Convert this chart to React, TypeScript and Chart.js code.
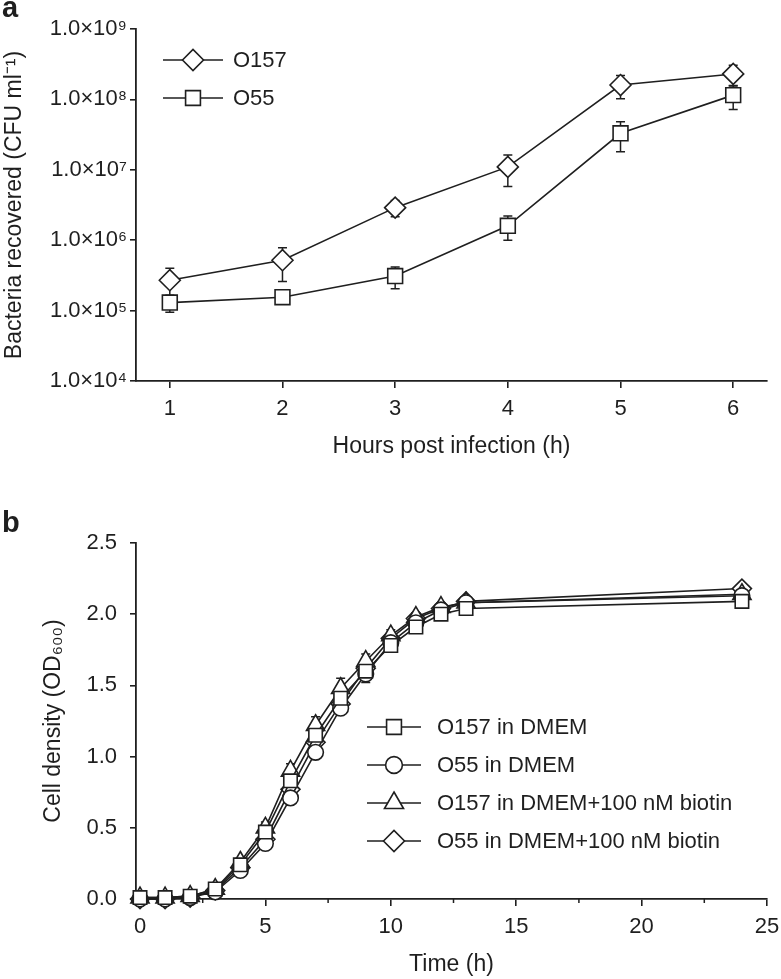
import React, { useEffect, useRef } from 'react';
import { Chart, registerables } from 'chart.js';
import { drawPoint } from 'chart.js/helpers';

Chart.register(...registerables);

const FONT_FAMILY = "'Liberation Sans', Arial, Helvetica, sans-serif";
const INK = '#1f1f1f';

// ---------- Panel a ----------
const hoursA = [1, 2, 3, 4, 5, 6];
const o157A = [2.7e5, 5.2e5, 2.9e6, 1.1e7, 1.6e8, 2.3e8];
const o157ASd = [1.3e5, 2.6e5, 7.5e5, 5.2e6, 5.8e7, 7.5e7];
const o55A = [1.3e5, 1.55e5, 3.1e5, 1.6e6, 3.3e7, 1.15e8];
const o55ASd = [3.5e4, 1.0e4, 1.05e5, 6.0e5, 1.5e7, 4.3e7];
const yTicksA = [1e4, 1e5, 1e6, 1e7, 1e8, 1e9];
const yTickLabelsA = ['1.0×10⁴', '1.0×10⁵', '1.0×10⁶', '1.0×10⁷', '1.0×10⁸', '1.0×10⁹'];
const xTicksA = [1, 2, 3, 4, 5, 6];
const seriesNamesA = ['O157', 'O55'];

// ---------- Panel b ----------
const timeB = [0, 1, 2, 3, 4, 5, 6, 7, 8, 9, 10, 11, 12, 13, 24];
const o157DmemB = [0.01, 0.01, 0.02, 0.07, 0.24, 0.47, 0.83, 1.15, 1.41, 1.60, 1.78, 1.91, 2.00, 2.04, 2.09];
const o157DmemSdB = [0.005, 0.005, 0.01, 0.02, 0.03, 0.04, 0.05, 0.05, 0.05, 0.08, 0.04, 0.03, 0.03, 0.03, 0.03];
const o55DmemB = [0.0, 0.0, 0.01, 0.05, 0.20, 0.39, 0.71, 1.03, 1.34, 1.58, 1.80, 1.94, 2.03, 2.08, 2.13];
const o55DmemSdB = [0.005, 0.005, 0.01, 0.01, 0.02, 0.03, 0.04, 0.04, 0.04, 0.04, 0.03, 0.03, 0.02, 0.02, 0.03];
const o157BiotinB = [0.01, 0.01, 0.02, 0.07, 0.26, 0.50, 0.90, 1.22, 1.48, 1.67, 1.85, 1.98, 2.05, 2.08, 2.14];
const o157BiotinSdB = [0.005, 0.005, 0.01, 0.02, 0.03, 0.04, 0.05, 0.06, 0.07, 0.05, 0.04, 0.03, 0.03, 0.03, 0.03];
const o55BiotinB = [0.0, 0.0, 0.01, 0.06, 0.22, 0.42, 0.77, 1.10, 1.37, 1.62, 1.83, 1.97, 2.04, 2.09, 2.18];
const o55BiotinSdB = [0.005, 0.005, 0.01, 0.01, 0.02, 0.03, 0.04, 0.04, 0.04, 0.04, 0.03, 0.03, 0.03, 0.02, 0.03];
const yTicksB = [0, 0.5, 1.0, 1.5, 2.0, 2.5];
const yTickLabelsB = ['0.0', '0.5', '1.0', '1.5', '2.0', '2.5'];
const xTicksB = [0, 5, 10, 15, 20, 25];
const xMinorTicksB = [2.5, 7.5, 12.5, 17.5, 22.5];
const seriesNamesB = [
  'O157 in DMEM',
  'O55 in DMEM',
  'O157 in DMEM+100 nM biotin',
  'O55 in DMEM+100 nM biotin',
];

// ---------- plugins ----------
const errorBarPlugin = {
  id: 'errorBars',
  beforeDatasetsDraw(chart: any) {
    const ctx = chart.ctx;
    const ys = chart.scales.y;
    chart.data.datasets.forEach((ds: any, i: number) => {
      const err = ds.errors;
      if (!err) return;
      const meta = chart.getDatasetMeta(i);
      ctx.save();
      ctx.strokeStyle = INK;
      ctx.lineWidth = 1.5;
      meta.data.forEach((pt: any, j: number) => {
        const v = ds.data[j].y;
        const e = err[j];
        if (!e) return;
        const yTop = ys.getPixelForValue(v + e);
        const low = v - e;
        const yBot = ys.type === 'logarithmic' && low <= 0 ? pt.y : ys.getPixelForValue(low);
        ctx.beginPath();
        ctx.moveTo(pt.x, yTop);
        ctx.lineTo(pt.x, yBot);
        ctx.moveTo(pt.x - 4.5, yTop);
        ctx.lineTo(pt.x + 4.5, yTop);
        ctx.moveTo(pt.x - 4.5, yBot);
        ctx.lineTo(pt.x + 4.5, yBot);
        ctx.stroke();
      });
      ctx.restore();
    });
  },
};

const inlineLegendPlugin = {
  id: 'inlineLegend',
  afterDraw(chart: any, _args: any, opts: any) {
    const { ctx, chartArea } = chart;
    ctx.save();
    chart.data.datasets.forEach((ds: any, i: number) => {
      const cx = chartArea.left + opts.dx;
      const cy = chartArea.top + opts.dy + i * opts.spacing;
      ctx.strokeStyle = INK;
      ctx.lineWidth = 1.6;
      ctx.beginPath();
      ctx.moveTo(cx - opts.half, cy);
      ctx.lineTo(cx + opts.half, cy);
      ctx.stroke();
      ctx.fillStyle = '#ffffff';
      ctx.strokeStyle = INK;
      ctx.lineWidth = ds.pointBorderWidth;
      const r = opts.radius && opts.radius[i] ? opts.radius[i] : ds.pointRadius;
      drawPoint(ctx, { pointStyle: ds.pointStyle, radius: r, borderWidth: ds.pointBorderWidth, rotation: 0 }, cx, cy);
      ctx.fillStyle = INK;
      ctx.font = `${opts.fontSize}px ${FONT_FAMILY}`;
      ctx.textAlign = 'left';
      ctx.textBaseline = 'middle';
      ctx.fillText(ds.label, cx + opts.textOffset, cy + 1);
    });
    ctx.restore();
  },
};

const minorTickPlugin = {
  id: 'minorTicks',
  afterDraw(chart: any, _args: any, opts: any) {
    if (!opts || !opts.values) return;
    const { ctx } = chart;
    const xs = chart.scales.x;
    const y0 = chart.chartArea.bottom;
    ctx.save();
    ctx.strokeStyle = INK;
    ctx.lineWidth = 1.5;
    ctx.beginPath();
    opts.values.forEach((v: number) => {
      const px = xs.getPixelForValue(v);
      ctx.moveTo(px, y0);
      ctx.lineTo(px, y0 + opts.length);
    });
    ctx.stroke();
    ctx.restore();
  },
};

const tickFont = { family: FONT_FAMILY, size: 22 };
const titleFont = { family: FONT_FAMILY, size: 23 };

function axisGrid(tickLength: number) {
  return {
    display: true,
    drawOnChartArea: false,
    drawTicks: true,
    tickLength,
    color: INK,
    lineWidth: 1.6,
  };
}
const axisBorder = { display: true, color: INK, width: 1.8 };

function fixXHeight(h: number) {
  return (s: any) => {
    s.height = h;
    s.paddingLeft = 0;
    s.paddingRight = 0;
  };
}
function fixYWidth(w: number) {
  return (s: any) => {
    s.width = w;
    s.paddingTop = 0;
    s.paddingBottom = 0;
  };
}

function datasetStyle(pointStyle: string, radius: number) {
  return {
    pointStyle,
    pointRadius: radius,
    pointHoverRadius: radius,
    pointBackgroundColor: '#ffffff',
    pointBorderColor: INK,
    pointBorderWidth: 1.6,
    borderColor: INK,
    borderWidth: 1.6,
    backgroundColor: '#ffffff',
    fill: false,
    tension: 0,
    clip: false as any,
  };
}

function makeConfigA(): any {
  return {
    type: 'line',
    data: {
      datasets: [
        {
          label: seriesNamesA[0],
          data: hoursA.map((x, i) => ({ x, y: o157A[i] })),
          errors: o157ASd,
          ...datasetStyle('rectRot', 10.5),
        },
        {
          label: seriesNamesA[1],
          data: hoursA.map((x, i) => ({ x, y: o55A[i] })),
          errors: o55ASd,
          ...datasetStyle('rect', 10.5),
        },
      ],
    },
    options: {
      responsive: false,
      animation: false,
      devicePixelRatio: 1,
      events: [],
      layout: { padding: { left: 1.2, right: 14, top: 29, bottom: 19.2 } },
      plugins: {
        legend: { display: false },
        tooltip: { enabled: false },
        inlineLegend: { dx: 57, dy: 31, spacing: 38, half: 30, textOffset: 40, fontSize: 22 },
      },
      scales: {
        x: {
          type: 'linear',
          min: 0.7,
          max: 6.3,
          afterBuildTicks: (s: any) => {
            s.ticks = xTicksA.map((v) => ({ value: v }));
          },
          afterFit: fixXHeight(79.8),
          grid: axisGrid(7),
          border: axisBorder,
          ticks: {
            autoSkip: false,
            maxRotation: 0,
            padding: 8,
            color: INK,
            font: tickFont,
            callback: (v: number) => String(v),
          },
          title: {
            display: true,
            text: 'Hours post infection (h)',
            color: INK,
            font: titleFont,
            padding: 0,
          },
        },
        y: {
          type: 'logarithmic',
          min: 1e4,
          max: 1e9,
          afterBuildTicks: (s: any) => {
            s.ticks = yTicksA.map((v) => ({ value: v }));
          },
          afterFit: fixYWidth(134.8),
          grid: axisGrid(6),
          border: axisBorder,
          ticks: {
            autoSkip: false,
            padding: 3,
            color: INK,
            font: tickFont,
            callback: (v: number) => {
              const i = yTicksA.indexOf(v);
              return i >= 0 ? yTickLabelsA[i] : '';
            },
          },
          title: {
            display: true,
            text: 'Bacteria recovered (CFU ml⁻¹)',
            color: INK,
            font: titleFont,
            padding: 0,
          },
        },
      },
    },
    plugins: [errorBarPlugin, inlineLegendPlugin],
  };
}

function makeConfigB(): any {
  const seriesVals = [o157DmemB, o55DmemB, o157BiotinB, o55BiotinB];
  const seriesSd = [o157DmemSdB, o55DmemSdB, o157BiotinSdB, o55BiotinSdB];
  const styles = [
    datasetStyle('rect', 9.5),
    datasetStyle('circle', 7.8),
    datasetStyle('triangle', 10.5),
    datasetStyle('rectRot', 9.5),
  ];
  return {
    type: 'line',
    data: {
      datasets: seriesVals.map((vals, k) => ({
        label: seriesNamesB[k],
        data: timeB.map((x, i) => ({ x, y: vals[i] })),
        errors: seriesSd[k],
        ...styles[k],
      })),
    },
    options: {
      responsive: false,
      animation: false,
      devicePixelRatio: 1,
      events: [],
      layout: { padding: { left: 39.7, right: 14, top: 63, bottom: 0.2 } },
      plugins: {
        legend: { display: false },
        tooltip: { enabled: false },
        inlineLegend: {
          dx: 258,
          dy: 184,
          spacing: 38,
          half: 27,
          textOffset: 43,
          fontSize: 22,
          radius: [10.5, 8.4, 11, 10.5],
        },
        minorTicks: { values: xMinorTicksB, length: 4 },
      },
      scales: {
        x: {
          type: 'linear',
          min: -0.16,
          max: 25,
          afterBuildTicks: (s: any) => {
            s.ticks = xTicksB.map((v) => ({ value: v }));
          },
          afterFit: fixXHeight(79.8),
          grid: axisGrid(7),
          border: axisBorder,
          ticks: {
            autoSkip: false,
            maxRotation: 0,
            padding: 8,
            color: INK,
            font: tickFont,
            callback: (v: number) => String(v),
          },
          title: {
            display: true,
            text: 'Time (h)',
            color: INK,
            font: titleFont,
            padding: 0,
          },
        },
        y: {
          type: 'linear',
          min: 0,
          max: 2.5,
          afterBuildTicks: (s: any) => {
            s.ticks = yTicksB.map((v) => ({ value: v }));
          },
          afterFit: fixYWidth(96.3),
          grid: axisGrid(6),
          border: axisBorder,
          ticks: {
            autoSkip: false,
            padding: 13,
            color: INK,
            font: tickFont,
            callback: (v: number) => {
              const i = yTicksB.indexOf(v);
              return i >= 0 ? yTickLabelsB[i] : '';
            },
          },
          title: {
            display: true,
            text: 'Cell density (OD₆₀₀)',
            color: INK,
            font: titleFont,
            padding: 0,
          },
        },
      },
    },
    plugins: [errorBarPlugin, inlineLegendPlugin, minorTickPlugin],
  };
}

function ChartCanvas({ config, width, height, top }: { config: () => any; width: number; height: number; top: number }) {
  const ref = useRef<HTMLCanvasElement | null>(null);
  useEffect(() => {
    if (!ref.current) return;
    const chart = new Chart(ref.current, config());
    return () => chart.destroy();
  }, [config]);
  return (
    <canvas
      ref={ref}
      width={width}
      height={height}
      style={{ position: 'absolute', left: 0, top, width, height, display: 'block' }}
    />
  );
}

const panelLabelStyle: React.CSSProperties = {
  position: 'absolute',
  left: 2,
  fontFamily: FONT_FAMILY,
  fontWeight: 'bold',
  fontSize: 29,
  lineHeight: '29px',
  color: INK,
};

export default function App() {
  return (
    <div style={{ position: 'absolute', left: 0, top: 0, width: 781, height: 979, background: '#ffffff', overflow: 'hidden' }}>
      <ChartCanvas config={makeConfigA} width={781} height={480} top={0} />
      <ChartCanvas config={makeConfigB} width={781} height={499} top={480} />
      <div style={{ ...panelLabelStyle, top: -7.5 }}>a</div>
      <div style={{ ...panelLabelStyle, top: 507.5 }}>b</div>
    </div>
  );
}
